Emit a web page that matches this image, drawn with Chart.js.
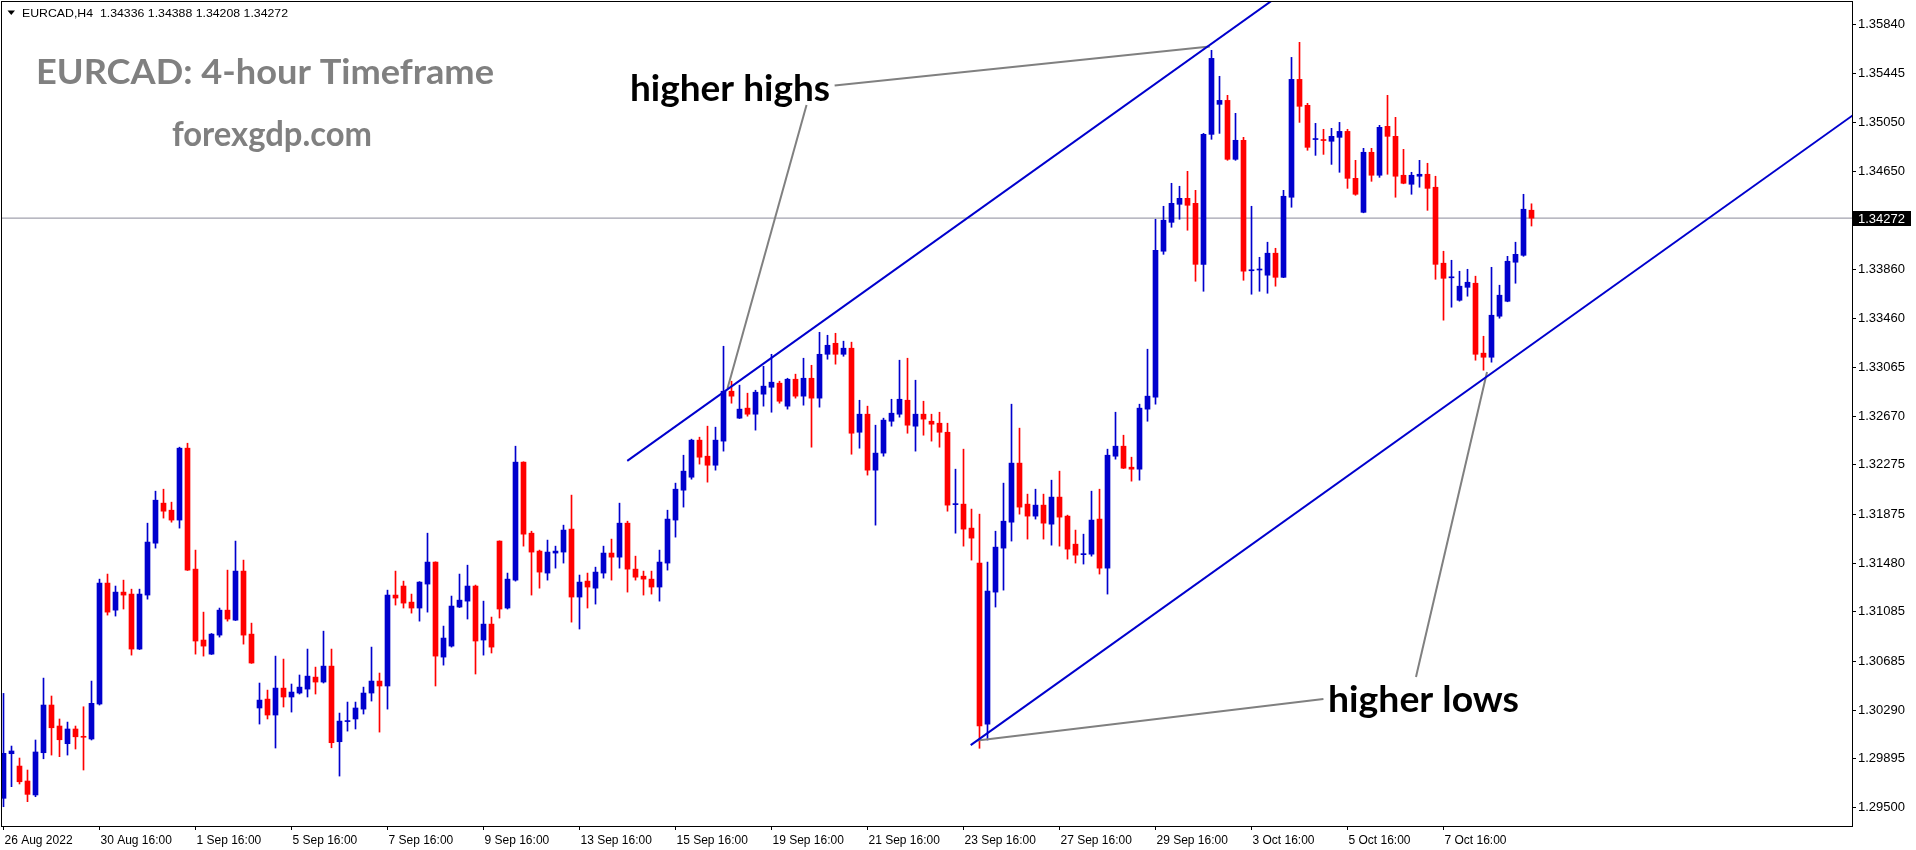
<!DOCTYPE html>
<html>
<head>
<meta charset="utf-8">
<script src="https://cdn.jsdelivr.net/npm/chart.js@4.4.1/dist/chart.umd.min.js"></script>
<style>
  html, body { margin: 0; padding: 0; background: #fff; }
  #wrap { width: 1916px; height: 850px; }
</style>
</head>
<body>
<div id="wrap"><canvas id="chart" width="1916" height="850"></canvas></div>
<script>
// EURCAD H4 candles (index 0 = 26 Aug 2022 16:00)
const opens = [
  1.29576, 1.29937, 1.29837, 1.29716, 1.29603, 1.29945, 1.30331, 1.30161, 1.30018, 1.30137,
  1.30074, 1.30056, 1.30339, 1.31318, 1.31099, 1.31245, 1.31229, 1.30784, 1.31221, 1.31641,
  1.31965, 1.31908, 1.31828, 1.32410, 1.31431, 1.30857, 1.30743, 1.30897, 1.31099, 1.31018,
  1.31415, 1.30905, 1.30307, 1.30379, 1.30250, 1.30468, 1.30396, 1.30428, 1.30460, 1.30557,
  1.30517, 1.30646, 1.30034, 1.30197, 1.30218, 1.30298, 1.30428, 1.30525, 1.30485, 1.31221,
  1.31294, 1.31164, 1.31116, 1.31310, 1.31488, 1.30719, 1.30808, 1.31124, 1.31172, 1.31294,
  1.30857, 1.30986, 1.31658, 1.31116, 1.31342, 1.32297, 1.31722, 1.31577, 1.31399, 1.31561,
  1.31569, 1.31755, 1.31205, 1.31334, 1.31277, 1.31399, 1.31561, 1.31528, 1.31803, 1.31431,
  1.31374, 1.31350, 1.31286, 1.31480, 1.31828, 1.32070, 1.32175, 1.32475, 1.32345, 1.32272,
  1.32467, 1.32871, 1.32653, 1.32734, 1.32685, 1.32847, 1.32903, 1.32936, 1.32750, 1.32968,
  1.32831, 1.32976, 1.32815, 1.33170, 1.33259, 1.33170, 1.33219, 1.32539, 1.32685, 1.32232,
  1.32370, 1.32628, 1.32685, 1.32798, 1.32588, 1.32685, 1.32628, 1.32612, 1.32539, 1.31953,
  1.31957, 1.31763, 1.31480, 1.30177, 1.31245, 1.31601, 1.31811, 1.32289, 1.31957, 1.31860,
  1.31949, 1.31795, 1.32014, 1.31860, 1.31633, 1.31548, 1.31552, 1.31836, 1.31439, 1.32345,
  1.32426, 1.32256, 1.32240, 1.32726, 1.32823, 1.34004, 1.34238, 1.34384, 1.34432, 1.34392,
  1.33898, 1.34950, 1.35193, 1.35225, 1.34748, 1.34902, 1.33846, 1.33852, 1.33810, 1.33988,
  1.33793, 1.34441, 1.35395, 1.35185, 1.34908, 1.34908, 1.34894, 1.34926, 1.34974, 1.34594,
  1.34319, 1.34805, 1.34619, 1.35015, 1.34934, 1.34619, 1.34546, 1.34611, 1.34627, 1.34522,
  1.33907, 1.33789, 1.33607, 1.33712, 1.33745, 1.33179, 1.33146, 1.33478, 1.33599, 1.33915,
  1.33971, 1.34336
];
const highs = [
  1.30425, 1.29999, 1.29902, 1.29805, 1.30048, 1.30549, 1.30404, 1.30218, 1.30193, 1.30161,
  1.30317, 1.30525, 1.31350, 1.31391, 1.31294, 1.31342, 1.31269, 1.31269, 1.31803, 1.32062,
  1.32078, 1.31973, 1.32418, 1.32450, 1.31585, 1.31083, 1.30910, 1.31116, 1.31423, 1.31658,
  1.31504, 1.30994, 1.30509, 1.30452, 1.30727, 1.30703, 1.30501, 1.30574, 1.30784, 1.30638,
  1.30929, 1.30784, 1.30266, 1.30355, 1.30355, 1.30476, 1.30800, 1.30590, 1.31261, 1.31415,
  1.31334, 1.31229, 1.31330, 1.31722, 1.31490, 1.30970, 1.31213, 1.31391, 1.31463, 1.31302,
  1.31172, 1.31043, 1.31660, 1.31399, 1.32426, 1.32300, 1.31738, 1.31585, 1.31666, 1.31617,
  1.31787, 1.32030, 1.31383, 1.31399, 1.31447, 1.31617, 1.31674, 1.31965, 1.31819, 1.31536,
  1.31415, 1.31415, 1.31585, 1.31908, 1.32127, 1.32353, 1.32483, 1.32499, 1.32588, 1.32580,
  1.33235, 1.32952, 1.32920, 1.32855, 1.32879, 1.33073, 1.33170, 1.32952, 1.32976, 1.33009,
  1.33138, 1.33081, 1.33348, 1.33324, 1.33340, 1.33276, 1.33268, 1.32798, 1.32750, 1.32596,
  1.32653, 1.32806, 1.33122, 1.33138, 1.32960, 1.32790, 1.32685, 1.32701, 1.32612, 1.32240,
  1.32402, 1.31917, 1.31876, 1.31488, 1.31738, 1.32127, 1.32766, 1.32572, 1.32038, 1.32078,
  1.32038, 1.32151, 1.32224, 1.31868, 1.31747, 1.31714, 1.32062, 1.32078, 1.32402, 1.32701,
  1.32515, 1.32337, 1.32766, 1.33211, 1.34263, 1.34368, 1.34554, 1.34530, 1.34651, 1.34497,
  1.34958, 1.35630, 1.35420, 1.35266, 1.35120, 1.34926, 1.34368, 1.33955, 1.34077, 1.34028,
  1.34497, 1.35573, 1.35695, 1.35201, 1.35039, 1.34991, 1.34999, 1.35047, 1.34991, 1.34740,
  1.34837, 1.34837, 1.35023, 1.35266, 1.35088, 1.34829, 1.34643, 1.34740, 1.34716, 1.34611,
  1.34004, 1.33931, 1.33842, 1.33858, 1.33802, 1.33316, 1.33874, 1.33729, 1.33963, 1.34077,
  1.34465, 1.34388
];
const lows = [
  1.29508, 1.29670, 1.29692, 1.29549, 1.29589, 1.29896, 1.29926, 1.29913, 1.29926, 1.29975,
  1.29805, 1.30048, 1.30331, 1.31059, 1.31051, 1.31108, 1.30735, 1.30780, 1.31188, 1.31601,
  1.31844, 1.31811, 1.31763, 1.31420, 1.30743, 1.30727, 1.30740, 1.30881, 1.31010, 1.31015,
  1.30824, 1.30668, 1.30177, 1.30218, 1.29983, 1.30315, 1.30274, 1.30420, 1.30396, 1.30420,
  1.30509, 1.29985, 1.29756, 1.30120, 1.30137, 1.30258, 1.30363, 1.30112, 1.30298, 1.31140,
  1.31116, 1.31075, 1.31010, 1.31083, 1.30485, 1.30654, 1.30800, 1.31120, 1.31027, 1.30582,
  1.30735, 1.30752, 1.31035, 1.31108, 1.31334, 1.31617, 1.31221, 1.31277, 1.31342, 1.31439,
  1.31480, 1.31002, 1.30946, 1.31116, 1.31148, 1.31358, 1.31342, 1.31439, 1.31245, 1.31342,
  1.31221, 1.31229, 1.31172, 1.31423, 1.31690, 1.31933, 1.32159, 1.32281, 1.32135, 1.32232,
  1.32386, 1.32774, 1.32650, 1.32669, 1.32556, 1.32750, 1.32701, 1.32774, 1.32726, 1.32815,
  1.32758, 1.32418, 1.32742, 1.33130, 1.33090, 1.33154, 1.32361, 1.32410, 1.32192, 1.31787,
  1.32345, 1.32588, 1.32661, 1.32531, 1.32386, 1.32515, 1.32467, 1.32418, 1.31900, 1.31722,
  1.31617, 1.31504, 1.29981, 1.30048, 1.31124, 1.31261, 1.31658, 1.31876, 1.31674, 1.31836,
  1.31674, 1.31625, 1.31617, 1.31512, 1.31480, 1.31472, 1.31536, 1.31391, 1.31229, 1.32321,
  1.32245, 1.32143, 1.32151, 1.32628, 1.32766, 1.33979, 1.34198, 1.34263, 1.34174, 1.33761,
  1.33680, 1.34910, 1.34958, 1.34740, 1.34740, 1.33769, 1.33656, 1.33680, 1.33664, 1.33721,
  1.33790, 1.34360, 1.35047, 1.34821, 1.34780, 1.34788, 1.34707, 1.34643, 1.34513, 1.34457,
  1.34315, 1.34570, 1.34602, 1.34627, 1.34441, 1.34550, 1.34465, 1.34522, 1.34335, 1.33777,
  1.33446, 1.33551, 1.33600, 1.33640, 1.33122, 1.33041, 1.33106, 1.33462, 1.33595, 1.33745,
  1.33963, 1.34208
];
const closes = [
  1.29940, 1.29959, 1.29710, 1.29608, 1.29951, 1.30331, 1.30147, 1.30050, 1.30137, 1.30074,
  1.30070, 1.30345, 1.31318, 1.31083, 1.31245, 1.31221, 1.30784, 1.31229, 1.31650, 1.31989,
  1.31900, 1.31828, 1.32410, 1.31423, 1.30849, 1.30808, 1.30905, 1.31099, 1.31027, 1.31415,
  1.30897, 1.30671, 1.30371, 1.30250, 1.30468, 1.30396, 1.30436, 1.30476, 1.30565, 1.30517,
  1.30646, 1.30026, 1.30201, 1.30201, 1.30307, 1.30428, 1.30525, 1.30485, 1.31221, 1.31197,
  1.31156, 1.31116, 1.31326, 1.31488, 1.30727, 1.30873, 1.31132, 1.31180, 1.31294, 1.30849,
  1.30986, 1.30800, 1.31108, 1.31350, 1.32297, 1.31714, 1.31569, 1.31407, 1.31569, 1.31577,
  1.31747, 1.31205, 1.31326, 1.31286, 1.31407, 1.31561, 1.31528, 1.31803, 1.31431, 1.31366,
  1.31350, 1.31286, 1.31488, 1.31836, 1.32078, 1.32224, 1.32475, 1.32337, 1.32272, 1.32475,
  1.32871, 1.32831, 1.32726, 1.32685, 1.32863, 1.32912, 1.32944, 1.32790, 1.32968, 1.32831,
  1.32976, 1.32815, 1.33170, 1.33243, 1.33170, 1.33219, 1.32531, 1.32685, 1.32232, 1.32370,
  1.32637, 1.32693, 1.32806, 1.32596, 1.32685, 1.32645, 1.32604, 1.32539, 1.31949, 1.31957,
  1.31755, 1.31682, 1.30161, 1.31253, 1.31609, 1.31819, 1.32289, 1.31933, 1.31860, 1.31949,
  1.31803, 1.32014, 1.31852, 1.31593, 1.31544, 1.31556, 1.31828, 1.31439, 1.32353, 1.32426,
  1.32248, 1.32240, 1.32734, 1.32831, 1.34012, 1.34255, 1.34392, 1.34432, 1.34376, 1.33898,
  1.34950, 1.35565, 1.35225, 1.34748, 1.34902, 1.33842, 1.33854, 1.33858, 1.33988, 1.33793,
  1.34449, 1.35395, 1.35177, 1.34845, 1.34916, 1.34900, 1.34934, 1.34974, 1.34594, 1.34465,
  1.34805, 1.34619, 1.35007, 1.34934, 1.34611, 1.34554, 1.34619, 1.34627, 1.34513, 1.33898,
  1.33785, 1.33797, 1.33721, 1.33753, 1.33170, 1.33146, 1.33486, 1.33648, 1.33923, 1.33979,
  1.34344, 1.34272
];

// Axis labels
const xTickIdx = [0, 12, 24, 36, 48, 60, 72, 84, 96, 108, 120, 132, 144, 156, 168, 180];
const xTickLabels = ['26 Aug 2022', '30 Aug 16:00', '1 Sep 16:00', '5 Sep 16:00', '7 Sep 16:00',
  '9 Sep 16:00', '13 Sep 16:00', '15 Sep 16:00', '19 Sep 16:00', '21 Sep 16:00', '23 Sep 16:00',
  '27 Sep 16:00', '29 Sep 16:00', '3 Oct 16:00', '5 Oct 16:00', '7 Oct 16:00'];
const yTickValues = [1.35840, 1.35445, 1.35050, 1.34650, 1.33860, 1.33460, 1.33065, 1.32670,
  1.32275, 1.31875, 1.31480, 1.31085, 1.30685, 1.30290, 1.29895, 1.29500];
const lastPrice = 1.34272;

// Drawn lines (candle index, price)
const upperChannel = [{ x: 77.97, y: 1.32307 }, { x: 162.06, y: 1.36195 }];
const lowerChannel = [{ x: 120.9, y: 1.30007 }, { x: 237.06, y: 1.35377 }];
const highsPointerA = [{ x: 103.89, y: 1.35345 }, { x: 150.78, y: 1.35662 }];
const highsPointerB = [{ x: 100.38, y: 1.35188 }, { x: 90.5, y: 1.32893 }];
const lowsPointerA = [{ x: 164.99, y: 1.30380 }, { x: 121.75, y: 1.30044 }];
const lowsPointerB = [{ x: 176.56, y: 1.30558 }, { x: 185.44, y: 1.33027 }];

const BULL = '#0000CD';
const BEAR = '#FF0000';
const X_MIN = -0.1875, X_MAX = 231.0625;
const Y_MIN = 1.293519, Y_MAX = 1.360213;

const bodyData = opens.map((o, i) => ({ x: i, y: [o, closes[i]] }));
const wickData = opens.map((o, i) => ({ x: i, y: [lows[i], highs[i]] }));
const candleColors = opens.map((o, i) => closes[i] >= o ? BULL : BEAR);

function lineSet(data, color, width, order) {
    return {
        type: 'line',
        data: data,
        borderColor: color,
        borderWidth: width,
        pointRadius: 0,
        fill: false,
        tension: 0,
        order: order
    };
}

// Draw text stretched to the width it has in the picture
function fitText(ctx, text, x, baseline, font, color, width) {
    ctx.save();
    ctx.font = font;
    const w = ctx.measureText(text).width;
    ctx.translate(x, baseline);
    ctx.scale(width / w, 1);
    ctx.fillStyle = color;
    ctx.textAlign = 'left';
    ctx.textBaseline = 'alphabetic';
    ctx.fillText(text, 0, 0);
    ctx.restore();
}

const overlay = {
    id: 'overlay',
    afterDraw(chart) {
        const { ctx, chartArea: a, scales: { y } } = chart;
        ctx.save();

        // frame
        ctx.strokeStyle = '#000';
        ctx.lineWidth = 1;
        ctx.strokeRect(a.left - 0.5, a.top - 0.5, a.right - a.left + 1, a.bottom - a.top + 1);

        // last price box
        const py = Math.round(y.getPixelForValue(lastPrice));
        ctx.fillStyle = '#000';
        ctx.fillRect(a.right + 1, py - 7, 58, 15);
        ctx.fillStyle = '#fff';
        ctx.font = '13px "Liberation Sans"';
        ctx.textBaseline = 'middle';
        ctx.fillText(lastPrice.toFixed(5), a.right + 6, py + 1);

        // header
        ctx.fillStyle = '#000';
        ctx.beginPath();
        ctx.moveTo(7.5, 10.5);
        ctx.lineTo(15, 10.5);
        ctx.lineTo(11.25, 15);
        ctx.closePath();
        ctx.fill();
        fitText(ctx, 'EURCAD,H4  1.34336 1.34388 1.34208 1.34272', 22, 17, '11px "Liberation Sans"', '#000', 266);

        // titles
        fitText(ctx, 'EURCAD: 4-hour Timeframe', 36, 84, 'bold 34px Lato', '#808080', 458);
        fitText(ctx, 'forexgdp.com', 172, 146, 'bold 34px Lato', '#808080', 200);

        // notes
        fitText(ctx, 'higher highs', 630, 101, 'bold 36px Lato', '#000', 200);
        fitText(ctx, 'higher lows', 1328, 712, 'bold 36px Lato', '#000', 191);

        ctx.restore();
    }
};

new Chart(document.getElementById('chart'), {
    type: 'bar',
    data: {
        datasets: [
            lineSet(upperChannel, BULL, 2, 0),
            lineSet(lowerChannel, BULL, 2, 0),
            lineSet(highsPointerA, '#808080', 2, 0),
            lineSet(highsPointerB, '#808080', 2, 0),
            lineSet(lowsPointerA, '#808080', 2, 0),
            lineSet(lowsPointerB, '#808080', 2, 0),
            {
                type: 'bar',
                data: bodyData,
                backgroundColor: candleColors,
                borderWidth: 0,
                barThickness: 5,
                grouped: false,
                minBarLength: 1,
                order: 1
            },
            {
                type: 'bar',
                data: wickData,
                backgroundColor: candleColors,
                borderWidth: 0,
                barThickness: 1,
                grouped: false,
                minBarLength: 1,
                order: 2
            },
            lineSet([{ x: X_MIN - 1, y: lastPrice }, { x: X_MAX + 1, y: lastPrice }], '#8a8a9a', 1, 3)
        ]
    },
    options: {
        responsive: false,
        animation: false,
        devicePixelRatio: 1,
        events: [],
        layout: { padding: { left: 2, top: 2, right: 0, bottom: 0 } },
        plugins: {
            legend: { display: false },
            tooltip: { enabled: false }
        },
        scales: {
            x: {
                type: 'linear',
                min: X_MIN,
                max: X_MAX,
                bounds: 'data',
                offset: false,
                grid: { drawOnChartArea: false, drawTicks: true, tickLength: 4, color: '#000', offset: false },
                border: { display: false },
                ticks: {
                    autoSkip: false,
                    maxRotation: 0,
                    minRotation: 0,
                    align: 'start',
                    labelOffset: 1,
                    padding: 3,
                    color: '#000',
                    font: { family: 'Liberation Sans', size: 12 },
                    callback: (v, i) => xTickLabels[i]
                },
                afterBuildTicks: s => { s.ticks = xTickIdx.map(v => ({ value: v })); },
                afterFit: s => { s.height = 24; s.paddingLeft = 0; s.paddingRight = 0; }
            },
            y: {
                type: 'linear',
                position: 'right',
                min: Y_MIN,
                max: Y_MAX,
                bounds: 'data',
                beginAtZero: false,
                grid: { drawOnChartArea: false, drawTicks: true, tickLength: 4, color: '#000' },
                border: { display: false },
                ticks: {
                    padding: 2,
                    color: '#000',
                    font: { family: 'Liberation Sans', size: 13 },
                    callback: v => v.toFixed(5)
                },
                afterBuildTicks: s => { s.ticks = yTickValues.map(v => ({ value: v })); },
                afterFit: s => { s.width = 64; s.paddingTop = 0; s.paddingBottom = 0; }
            }
        }
    },
    plugins: [overlay]
});
</script>
</body>
</html>
